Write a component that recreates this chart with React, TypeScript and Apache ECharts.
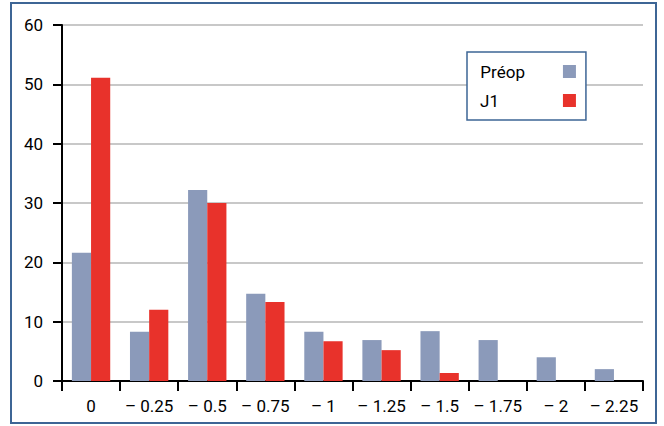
import React, { useEffect, useRef } from "react";
import * as echarts from "echarts";

const categories = ["0", "– 0.25", "– 0.5", "– 0.75", "– 1", "– 1.25", "– 1.5", "– 1.75", "– 2", "– 2.25"];
const preop = [21.6, 8.3, 32.2, 14.7, 8.3, 6.9, 8.4, 6.9, 4.0, 2.0];
const j1 = [51.1, 12.0, 30.0, 13.3, 6.7, 5.2, 1.35, 0, 0, 0];
const seriesNames = ["Préop", "J1"];
const colors = ["#8b9aba", "#e8322b"];

const FONT = "Roboto, 'DejaVu Sans', sans-serif";

export default function App() {
  const ref = useRef<HTMLDivElement>(null);
  useEffect(() => {
    if (!ref.current) return;
    const chart = echarts.init(ref.current, null, { renderer: "svg" });
    chart.setOption({
      animation: false,
      backgroundColor: "#ffffff",
      graphic: [
        {
          type: "rect",
          shape: { x: 11, y: 3, width: 645, height: 420 },
          style: { fill: "none", stroke: "#3d6595", lineWidth: 2 },
          silent: true,
        },
      ],
      grid: { left: 62, right: 21, top: 25, bottom: 45 },
      legend: {
        orient: "vertical",
        left: 467,
        top: 52,
        align: "right",
        padding: [11, 10, 11, 13],
        borderColor: "#3d6595",
        borderWidth: 1.5,
        backgroundColor: "#ffffff",
        itemWidth: 13,
        itemHeight: 13,
        itemGap: 12,
        icon: "rect",
        textStyle: { fontFamily: FONT, fontSize: 17, color: "#000" },
        data: [
          { name: seriesNames[0], textStyle: { padding: [0, 33, 0, 0] } },
          { name: seriesNames[1], textStyle: { padding: [0, 59, 0, 0] } },
        ],
      },
      xAxis: {
        type: "category",
        data: categories,
        axisLine: { show: true, lineStyle: { color: "#000", width: 2 } },
        axisTick: { show: true, alignWithLabel: false, interval: 0, length: 10, lineStyle: { color: "#000", width: 2 } },
        axisLabel: { interval: 0, fontFamily: FONT, fontSize: 17, color: "#000", margin: 16 },
      },
      yAxis: {
        type: "value",
        min: 0,
        max: 60,
        interval: 10,
        axisLine: { show: true, lineStyle: { color: "#000", width: 2 } },
        axisTick: { show: true, length: 9, lineStyle: { color: "#000", width: 2 } },
        splitLine: { lineStyle: { color: "#c8c8c8", width: 2 } },
        axisLabel: { fontFamily: FONT, fontSize: 17, color: "#000", margin: 19 },
      },
      series: [
        {
          name: seriesNames[0],
          type: "bar",
          data: preop,
          itemStyle: { color: colors[0] },
          barGap: "0%",
          barCategoryGap: "34%",
        },
        {
          name: seriesNames[1],
          type: "bar",
          data: j1,
          itemStyle: { color: colors[1] },
          barGap: "0%",
          barCategoryGap: "34%",
        },
      ],
    });
    return () => chart.dispose();
  }, []);
  return (
    <div
      ref={ref}
      style={{ position: "fixed", left: 0, top: 0, width: 664, height: 426 }}
    />
  );
}
